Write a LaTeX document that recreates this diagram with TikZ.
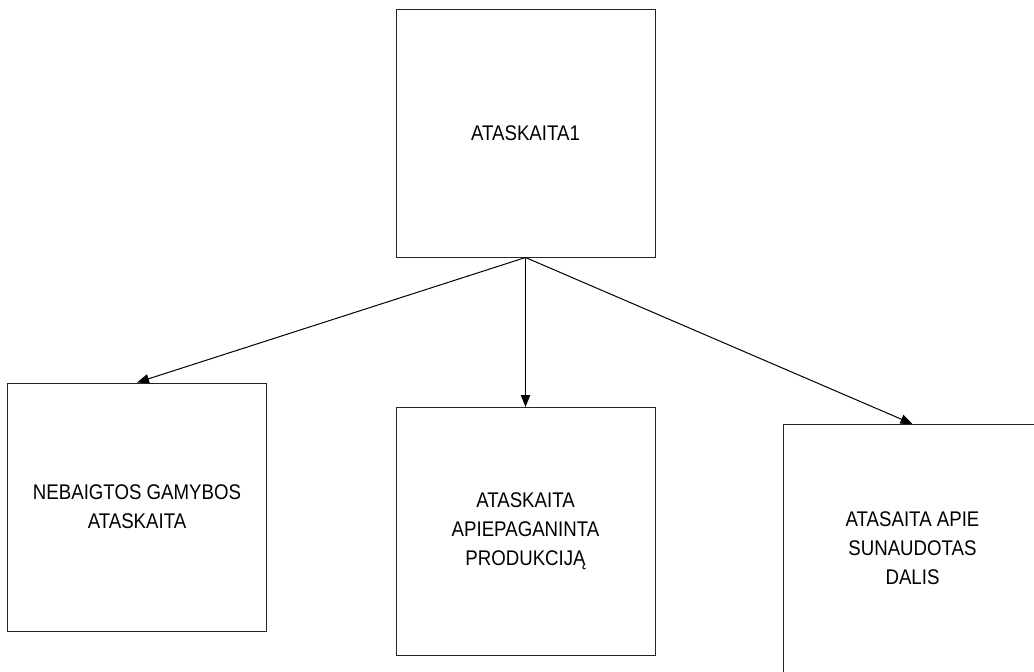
\documentclass[tikz,border=0pt]{standalone}
\usepackage{fontspec}
\setmainfont{Liberation Sans}[FakeStretch=0.88]
\usetikzlibrary{arrows.meta}
\begin{document}
\begin{tikzpicture}[x=0.75pt,y=-0.75pt,
  report/.style={draw=black!85,line width=0.75pt,fill=white,inner sep=0pt,
    minimum width=194.25pt,minimum height=186pt,align=center,
    font=\fontsize{15.9}{21.75}\selectfont},
  link/.style={draw=black,line width=0.75pt,
    -{Triangle[length=9pt,width=7pt]}}]
\useasboundingbox (0,0) rectangle (1034,671);
\clip (0,0) rectangle (1034,671);
\fill[white] (0,0) rectangle (1034,671);
% parent report
\node[report] (top) at (525.5,133) {ATASKAITA1};
% child reports
\node[report] (left) at (137,507) {NEBAIGTOS GAMYBOS\\ATASKAITA};
\node[report] (mid) at (525.5,531.5) {ATASKAITA\\APIEPAGANINTA\\PRODUKCIJĄ};
\node[report] (right) at (912.5,548.5) {ATASAITA APIE\\SUNAUDOTAS\\DALIS};
% connectors
\draw[link] (top.south) -- (left.north);
\draw[link] (top.south) -- (mid.north);
\draw[link] (top.south) -- (right.north);
\end{tikzpicture}
\end{document}
